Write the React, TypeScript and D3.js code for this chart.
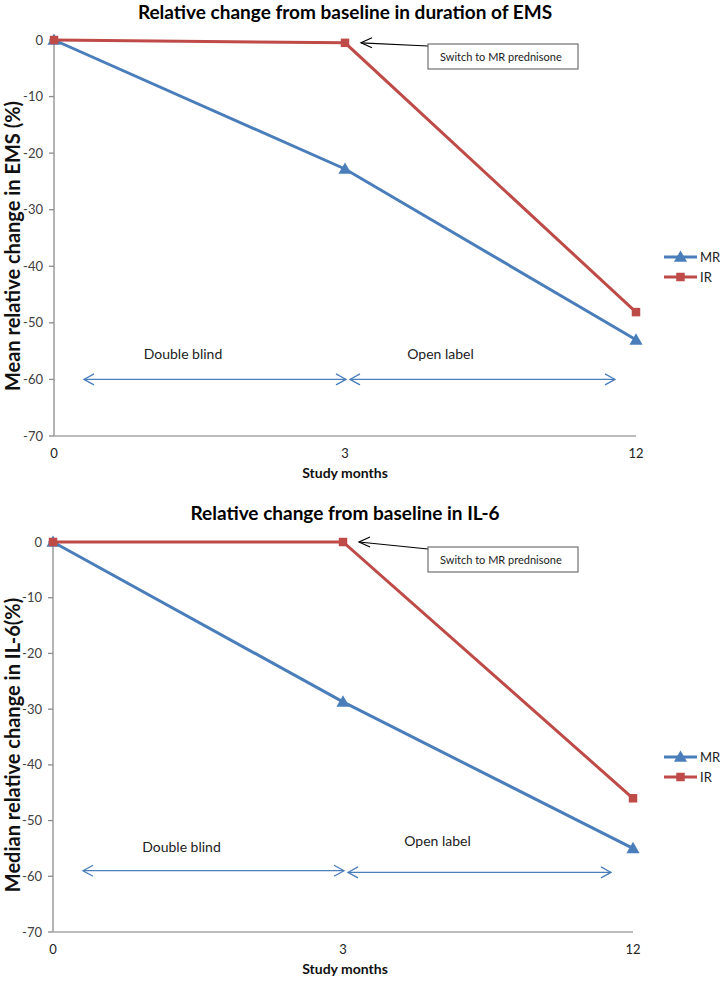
import React from "react";
import * as d3 from "d3";

// ---- data ----
const months = ["0", "3", "12"];
const yTicks = [0, -10, -20, -30, -40, -50, -60, -70];
const seriesNames = ["MR", "IR"];
const emsMR = [0, -22.8, -53.0];
const emsIR = [0, -0.5, -48.1];
const il6MR = [0, -28.7, -55.0];
const il6IR = [0, 0, -46.0];
const phaseLabels = ["Double blind", "Open label"];
const annotationText = "Switch to MR prednisone";

const BLUE = "#4A7EBB";
const RED = "#BE4B48";
const FONT = "Lato, 'Open Sans', sans-serif";

type ChartProps = {
  title: string;
  ylabel: string;
  mr: number[];
  ir: number[];
  top: number;
  bottom: number;
  xLeft: number;
  xRight: number;
  titleY: number;
  phaseY: [number, number];
  phaseTextY: [number, number];
  openEnd: number;
  legendY: number;
  boxY: number;
};

function Chart(p: ChartProps) {
  const x = d3.scalePoint<string>().domain(months).range([p.xLeft, p.xRight]);
  const y = d3.scaleLinear().domain([0, -70]).range([p.top, p.bottom]);
  const line = d3
    .line<number>()
    .x((_, i) => x(months[i]) as number)
    .y((d) => y(d));
  const tri = d3.symbol().type(d3.symbolTriangle).size(75)() as string;
  const sq = d3.symbol().type(d3.symbolSquare).size(72)() as string;
  const x0 = x("0") as number;
  const x3 = x("3") as number;
  const x12 = x("12") as number;

  const chevron = (tipX: number, tipY: number, dir: number, len = 10, half = 5.5) =>
    `M${tipX - dir * len},${tipY - half}L${tipX},${tipY}L${tipX - dir * len},${tipY + half}`;

  const dbStart = x0 + 30;
  const dbEnd = x3 + 1;
  const olStart = x3 + 5;
  const olEnd = p.openEnd;
  const irAt3 = y(p.ir[1]);

  return (
    <g>
      <text x={345} y={p.titleY} textAnchor="middle" fontFamily={FONT} fontWeight="bold" fontSize={19} fill="#000">
        {p.title}
      </text>
      {/* y axis */}
      <line x1={x0} x2={x0} y1={y(0)} y2={y(-70)} stroke="#8c8c8c" strokeWidth={1.3} />
      {yTicks.map((t) => (
        <g key={t}>
          <line x1={x0 - 5} x2={x0} y1={y(t)} y2={y(t)} stroke="#8c8c8c" strokeWidth={1.3} />
          <text x={x0 - 11} y={y(t)} dy="0.35em" textAnchor="end" fontFamily={FONT} fontSize={13} fill="#404040">
            {t}
          </text>
        </g>
      ))}
      {/* x axis */}
      <line x1={x0} x2={x12} y1={y(-70)} y2={y(-70)} stroke="#a6a6a6" strokeWidth={1.5} />
      {months.map((m) => (
        <text key={m} x={x(m)} y={y(-70) + 22} textAnchor="middle" fontFamily={FONT} fontSize={13} fill="#222">
          {m}
        </text>
      ))}
      <text x={345} y={y(-70) + 42} textAnchor="middle" fontFamily={FONT} fontWeight="bold" fontSize={14} fill="#111">
        Study months
      </text>
      <text
        transform={`translate(20,${(y(0) + y(-70)) / 2 + 8}) rotate(-90)`}
        textAnchor="middle"
        fontFamily={FONT}
        fontWeight="bold"
        fontSize={20}
        fill="#111"
      >
        {p.ylabel}
      </text>

      {/* phase arrows */}
      <g stroke={BLUE} strokeWidth={1.3} fill="none">
        <line x1={dbStart} x2={dbEnd} y1={y(p.phaseY[0])} y2={y(p.phaseY[0])} />
        <path d={chevron(dbStart, y(p.phaseY[0]), -1)} />
        <path d={chevron(dbEnd, y(p.phaseY[0]), 1)} />
        <line x1={olStart} x2={olEnd} y1={y(p.phaseY[1])} y2={y(p.phaseY[1])} />
        <path d={chevron(olStart, y(p.phaseY[1]), -1)} />
        <path d={chevron(olEnd, y(p.phaseY[1]), 1)} />
      </g>
      <text x={(dbStart + dbEnd) / 2 - 32} y={y(p.phaseTextY[0])} dy="0.35em" textAnchor="middle" fontFamily={FONT} fontSize={14} fill="#222">
        {phaseLabels[0]}
      </text>
      <text x={(olStart + olEnd) / 2 - 42} y={y(p.phaseTextY[1])} dy="0.35em" textAnchor="middle" fontFamily={FONT} fontSize={14} fill="#222">
        {phaseLabels[1]}
      </text>

      {/* series */}
      <path d={line(p.mr) as string} fill="none" stroke={BLUE} strokeWidth={3} />
      {p.mr.map((v, i) => (
        <path key={i} d={tri} transform={`translate(${x(months[i])},${y(v) + 1})`} fill={BLUE} />
      ))}
      <path d={line(p.ir) as string} fill="none" stroke={RED} strokeWidth={3} />
      {p.ir.map((v, i) => (
        <path key={i} d={sq} transform={`translate(${x(months[i])},${y(v)})`} fill={RED} />
      ))}

      {/* annotation */}
      <g>
        <line x1={428} x2={x3 + 16} y1={p.boxY + 2} y2={irAt3} stroke="#000" strokeWidth={1.2} />
        <path d={`M${x3 + 27},${irAt3 - 5}L${x3 + 16},${irAt3}L${x3 + 27},${irAt3 + 5}`} fill="none" stroke="#000" strokeWidth={1.2} />
        <rect x={428} y={p.boxY} width={150} height={25} fill="#fff" stroke="#555" strokeWidth={1} />
        <text x={440} y={p.boxY + 13} dy="0.35em" fontFamily={FONT} fontSize={11} fill="#222">
          {annotationText}
        </text>
      </g>

      {/* legend */}
      {seriesNames.map((n, i) => {
        const ly = p.legendY + i * 20;
        const col = i === 0 ? BLUE : RED;
        return (
          <g key={n}>
            <line x1={664} x2={697} y1={ly} y2={ly} stroke={col} strokeWidth={3} />
            <path d={i === 0 ? tri : sq} transform={`translate(680.5,${ly + (i === 0 ? 1 : 0)})`} fill={col} />
            <text x={700} y={ly} dy="0.35em" fontFamily={FONT} fontSize={13} fill="#222">
              {n}
            </text>
          </g>
        );
      })}
    </g>
  );
}

export default function App() {
  return (
    <svg
      width={720}
      height={984}
      viewBox="0 0 720 984"
      style={{ position: "absolute", left: 0, top: 0, background: "#fff" }}
    >
      <rect width={720} height={984} fill="#fff" />
      <Chart
        title="Relative change from baseline in duration of EMS"
        ylabel="Mean relative change in EMS (%)"
        mr={emsMR}
        ir={emsIR}
        top={40}
        bottom={436}
        xLeft={54}
        xRight={636}
        titleY={19}
        phaseY={[-60, -60]}
        phaseTextY={[-55.5, -55.5]}
        openEnd={615}
        legendY={257}
        boxY={44}
      />
      <Chart
        title="Relative change from baseline in IL-6"
        ylabel="Median relative change in IL-6(%)"
        mr={il6MR}
        ir={il6IR}
        top={542}
        bottom={932}
        xLeft={53}
        xRight={633}
        titleY={520}
        phaseY={[-59, -59.3]}
        phaseTextY={[-54.8, -53.7]}
        openEnd={611}
        legendY={757}
        boxY={547}
      />
    </svg>
  );
}
